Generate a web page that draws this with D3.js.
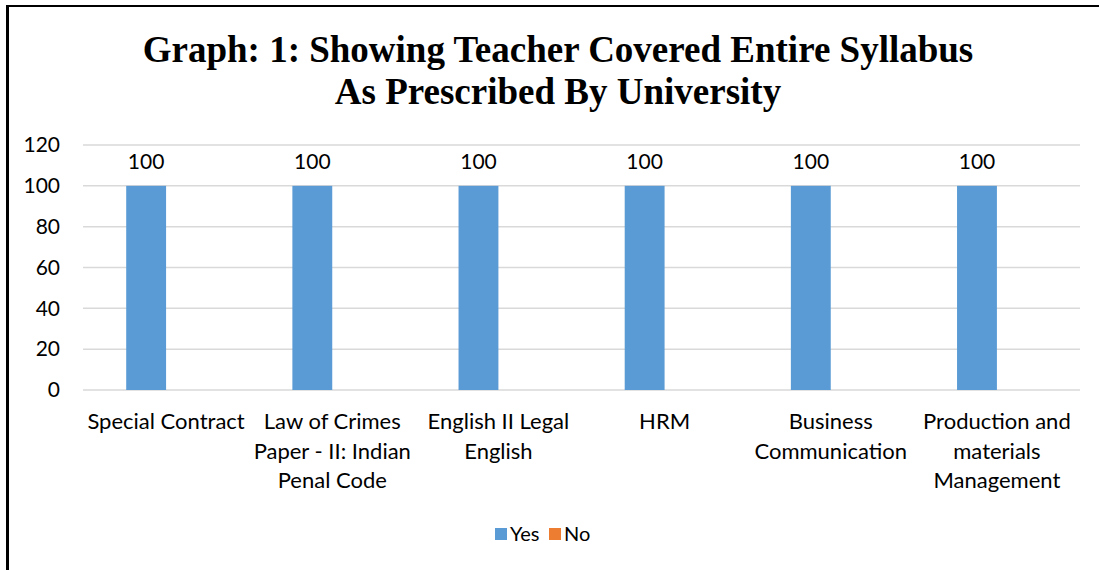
<!DOCTYPE html>
<html><head><meta charset="utf-8">
<script src="https://cdn.jsdelivr.net/npm/d3@7"></script>
<style>body{margin:0;background:#fff}svg{display:block}</style>
</head><body>
<script>
const titleLines = ["Graph: 1: Showing Teacher Covered Entire Syllabus", "As Prescribed By University"];
const categories = ["Special Contract", "Law of Crimes Paper - II: Indian Penal Code", "English II Legal English", "HRM", "Business Communication", "Production and materials Management"];
const seriesNames = ["Yes", "No"];
const yesValues = [100, 100, 100, 100, 100, 100];
const noValues = [0, 0, 0, 0, 0, 0];
const yTicks = [0, 20, 40, 60, 80, 100, 120];
const colors = ["#5B9BD5", "#ED7D31"];

const W = 1099, H = 570;
const font = "Lato, 'Open Sans', sans-serif";
const fs = "21px";
const svg = d3.select("body").append("svg").attr("width", W).attr("height", H);

// outer border (left and top visible)
svg.append("line").attr("x1", 7.5).attr("x2", 7.5).attr("y1", 5).attr("y2", H).attr("stroke", "#000").attr("stroke-width", 3);
svg.append("line").attr("x1", 6).attr("x2", W).attr("y1", 6).attr("y2", 6).attr("stroke", "#000").attr("stroke-width", 2);

// title
svg.append("text").attr("x", 558).attr("text-anchor", "middle")
  .style("font-family", "'Liberation Serif', 'Times New Roman', serif").style("font-weight", "bold").style("font-size", "37px")
  .selectAll("tspan").data(titleLines).join("tspan")
  .attr("x", 558).attr("y", (d, i) => 62 + i * 42).text(d => d);

const x0 = d3.scaleBand().domain(categories).range([83, 1080]).paddingInner(0.52).paddingOuter(0.26);
const x1 = d3.scaleBand().domain(seriesNames).range([0, x0.bandwidth()]);
const y = d3.scaleLinear().domain([0, 120]).range([390, 145]);

// gridlines
svg.append("g").selectAll("line").data(yTicks).join("line")
  .attr("x1", 83).attr("x2", 1080).attr("y1", d => y(d)).attr("y2", d => y(d))
  .attr("stroke", "#d9d9d9").attr("stroke-width", 1.5);

// y axis labels
const yAxis = d3.axisLeft(y).tickValues(yTicks).tickSize(0).tickPadding(0);
const ya = svg.append("g").attr("transform", "translate(60,0)").call(yAxis);
ya.select(".domain").remove();
ya.selectAll("text").style("font-family", font).style("font-size", fs).attr("fill", "#000");

// bars
const series = [yesValues, noValues];
const g = svg.append("g");
series.forEach((vals, si) => {
  g.append("g").selectAll("rect").data(vals).join("rect")
    .attr("x", (d, i) => x0(categories[i]) + x1(seriesNames[si]))
    .attr("width", x1.bandwidth())
    .attr("y", d => y(d)).attr("height", d => y(0) - y(d))
    .attr("fill", colors[si]);
  g.append("g").selectAll("text").data(vals.map((v, i) => ({v, i})).filter(o => o.v > 0)).join("text")
    .attr("x", o => x0(categories[o.i]) + x1(seriesNames[si]) + x1.bandwidth() / 2)
    .attr("y", o => y(o.v) - 17)
    .attr("text-anchor", "middle").style("font-family", font).style("font-size", fs)
    .text(o => o.v);
});

// x axis labels with wrapping
const xa = svg.append("g").attr("transform", "translate(0,390)").call(d3.axisBottom(x0).tickSize(0).tickPadding(0));
xa.select(".domain").remove();
xa.selectAll("text").style("font-family", font).style("font-size", "22px").attr("fill", "#000")
  .each(function(d) {
    const t = d3.select(this);
    const words = d.split(" ");
    t.text(null);
    const maxW = 166;
    let lines = [], cur = [];
    const probe = t.append("tspan");
    words.forEach(w => {
      const test = cur.concat([w]).join(" ");
      probe.text(test);
      if (probe.node().getComputedTextLength() > maxW && cur.length) { lines.push(cur.join(" ")); cur = [w]; }
      else cur.push(w);
    });
    lines.push(cur.join(" "));
    probe.remove();
    t.attr("y", 0).attr("dy", null);
    lines.forEach((l, i) => t.append("tspan").attr("x", 0).attr("y", 39 + i * 29.5).text(l));
  });

// legend
const lg = svg.append("g");
const legendX = [495, 549];
seriesNames.forEach((s, i) => {
  lg.append("rect").attr("x", legendX[i]).attr("y", 528).attr("width", 12).attr("height", 12).attr("fill", colors[i]);
  lg.append("text").attr("x", legendX[i] + 15).attr("y", 541).style("font-family", font).style("font-size", "20px").text(s);
});
</script>
</body></html>
